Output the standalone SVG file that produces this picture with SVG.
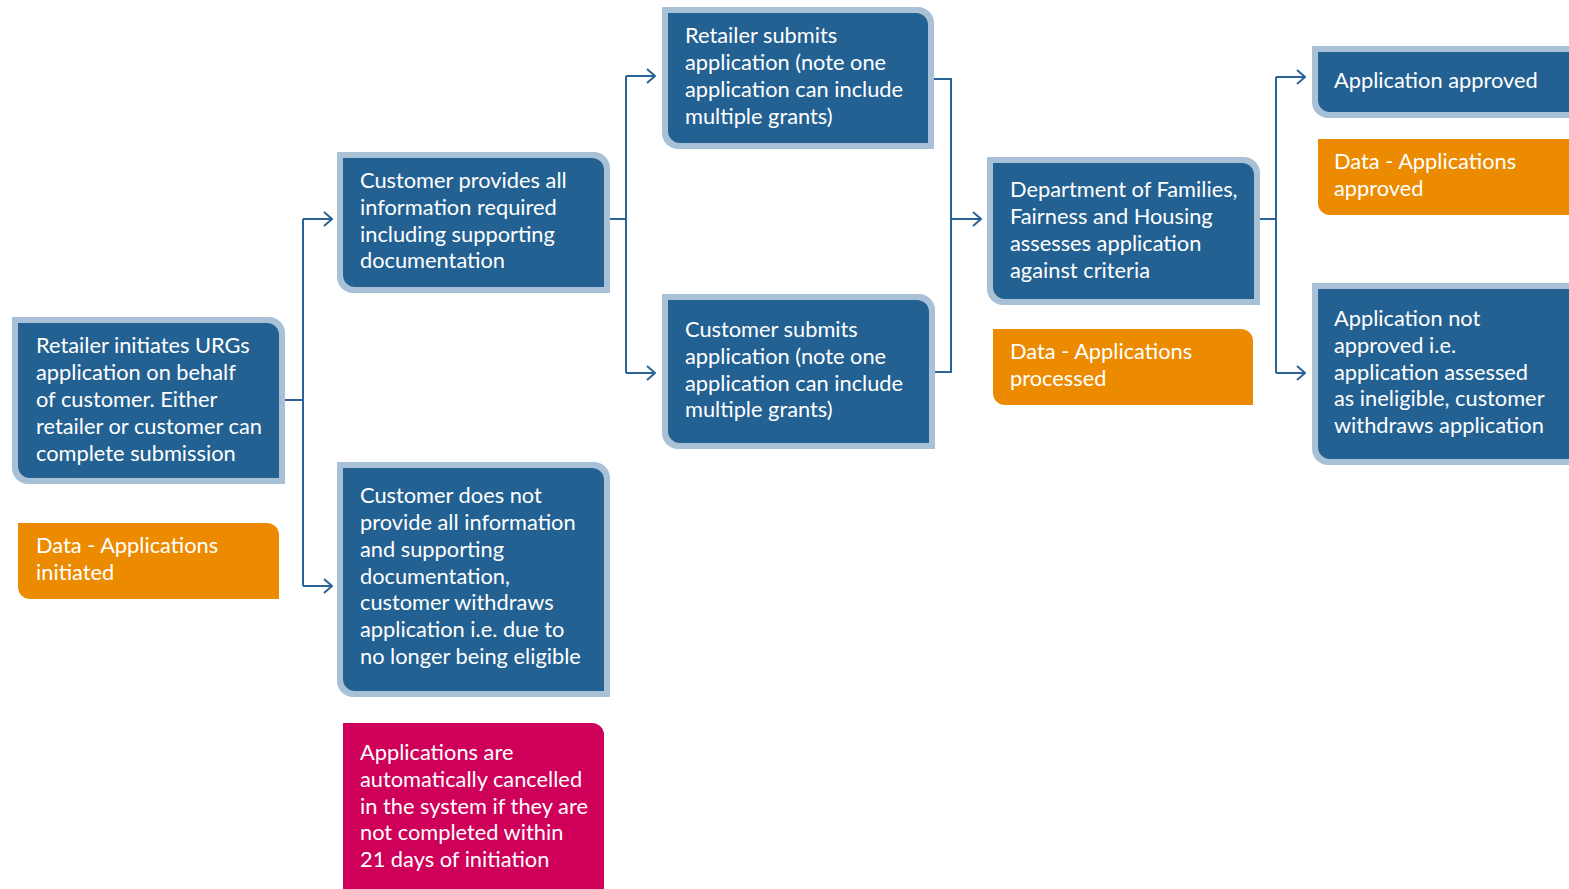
<svg xmlns="http://www.w3.org/2000/svg" width="1569" height="889" viewBox="0 0 1569 889">
<defs>
<style>
.outer{fill:#a8c1d6}
.inner{fill:#236192}
.orange{fill:#ec8b00}
.pink{fill:#cf0059}
.t{font-family:Lato,"Liberation Sans",sans-serif;font-size:21.8px;fill:#ffffff}
.c{fill:none;stroke:#2a6497;stroke-width:2}
</style>
<marker id="arr" viewBox="0 0 10 16" refX="9" refY="8" markerWidth="10" markerHeight="16" markerUnits="userSpaceOnUse" orient="auto">
<path d="M1,1 L9,8 L1,15" fill="none" stroke="#2a6497" stroke-width="2"/>
</marker>
</defs>
<rect width="1569" height="889" fill="#ffffff"/>
<g id="connectors">
<path class="c" d="M285,400 H303 M303,219 V586"/>
<path class="c" d="M303,219 H332" marker-end="url(#arr)"/>
<path class="c" d="M303,586 H332" marker-end="url(#arr)"/>
<path class="c" d="M610,219 H626 M626,76 V373"/>
<path class="c" d="M626,76 H655" marker-end="url(#arr)"/>
<path class="c" d="M626,373 H655" marker-end="url(#arr)"/>
<path class="c" d="M934,79 H951 V372 H935"/>
<path class="c" d="M951,219 H981" marker-end="url(#arr)"/>
<path class="c" d="M1260,219 H1276 M1276,77 V373"/>
<path class="c" d="M1276,77 H1305" marker-end="url(#arr)"/>
<path class="c" d="M1276,373 H1305" marker-end="url(#arr)"/>
</g>
<g id="retailer-initiates">
<path class="outer" d="M12,317 H269 A16,16 0 0 1 285,333 V484 H28 A16,16 0 0 1 12,468 Z"/>
<path class="inner" d="M18,323 H267 A12,12 0 0 1 279,335 V478 H30 A12,12 0 0 1 18,466 Z"/>
<text class="t"><tspan x="36" y="353">Retailer initiates URGs</tspan><tspan x="36" y="380">application on behalf</tspan><tspan x="36" y="407">of customer. Either</tspan><tspan x="36" y="434">retailer or customer can</tspan><tspan x="36" y="461">complete submission</tspan></text>
</g>
<g id="data-initiated">
<path class="orange" d="M18,523 H267 A12,12 0 0 1 279,535 V599 H30 A12,12 0 0 1 18,587 Z"/>
<text class="t"><tspan x="36" y="553">Data - Applications</tspan><tspan x="36" y="580">initiated</tspan></text>
</g>
<g id="customer-provides">
<path class="outer" d="M337,152 H594 A16,16 0 0 1 610,168 V293 H353 A16,16 0 0 1 337,277 Z"/>
<path class="inner" d="M343,158 H592 A12,12 0 0 1 604,170 V287 H355 A12,12 0 0 1 343,275 Z"/>
<text class="t"><tspan x="360" y="188">Customer provides all</tspan><tspan x="360" y="215">information required</tspan><tspan x="360" y="242">including supporting</tspan><tspan x="360" y="268">documentation</tspan></text>
</g>
<g id="customer-not-provide">
<path class="outer" d="M337,462 H594 A16,16 0 0 1 610,478 V697 H353 A16,16 0 0 1 337,681 Z"/>
<path class="inner" d="M343,468 H592 A12,12 0 0 1 604,480 V691 H355 A12,12 0 0 1 343,679 Z"/>
<text class="t"><tspan x="360" y="503">Customer does not</tspan><tspan x="360" y="530">provide all information</tspan><tspan x="360" y="557">and supporting</tspan><tspan x="360" y="584">documentation,</tspan><tspan x="360" y="610">customer withdraws</tspan><tspan x="360" y="637">application i.e. due to</tspan><tspan x="360" y="664">no longer being eligible</tspan></text>
</g>
<g id="auto-cancelled">
<path class="pink" d="M343,723 H592 A12,12 0 0 1 604,735 V900 H343 Z"/>
<text class="t"><tspan x="360" y="760">Applications are</tspan><tspan x="360" y="787">automatically cancelled</tspan><tspan x="360" y="814">in the system if they are</tspan><tspan x="360" y="840">not completed within</tspan><tspan x="360" y="867">21 days of initiation</tspan></text>
</g>
<g id="retailer-submits">
<path class="outer" d="M662,7 H918 A16,16 0 0 1 934,23 V149 H678 A16,16 0 0 1 662,133 Z"/>
<path class="inner" d="M668,13 H916 A12,12 0 0 1 928,25 V143 H680 A12,12 0 0 1 668,131 Z"/>
<text class="t"><tspan x="685" y="43">Retailer submits</tspan><tspan x="685" y="70">application (note one</tspan><tspan x="685" y="97">application can include</tspan><tspan x="685" y="124">multiple grants)</tspan></text>
</g>
<g id="customer-submits">
<path class="outer" d="M662,294 H919 A16,16 0 0 1 935,310 V449 H678 A16,16 0 0 1 662,433 Z"/>
<path class="inner" d="M668,300 H917 A12,12 0 0 1 929,312 V443 H680 A12,12 0 0 1 668,431 Z"/>
<text class="t"><tspan x="685" y="337">Customer submits</tspan><tspan x="685" y="364">application (note one</tspan><tspan x="685" y="391">application can include</tspan><tspan x="685" y="417">multiple grants)</tspan></text>
</g>
<g id="department-assesses">
<path class="outer" d="M987,157 H1244 A16,16 0 0 1 1260,173 V305 H1003 A16,16 0 0 1 987,289 Z"/>
<path class="inner" d="M993,163 H1242 A12,12 0 0 1 1254,175 V299 H1005 A12,12 0 0 1 993,287 Z"/>
<text class="t"><tspan x="1010" y="197">Department of Families,</tspan><tspan x="1010" y="224">Fairness and Housing</tspan><tspan x="1010" y="251">assesses application</tspan><tspan x="1010" y="278">against criteria</tspan></text>
</g>
<g id="data-processed">
<path class="orange" d="M993,329 H1241 A12,12 0 0 1 1253,341 V405 H1005 A12,12 0 0 1 993,393 Z"/>
<text class="t"><tspan x="1010" y="359">Data - Applications</tspan><tspan x="1010" y="386">processed</tspan></text>
</g>
<g id="application-approved">
<path class="outer" d="M1312,46 H1600 V118 H1328 A16,16 0 0 1 1312,102 Z"/>
<path class="inner" d="M1318,52 H1600 V112 H1330 A12,12 0 0 1 1318,100 Z"/>
<text class="t"><tspan x="1334" y="88">Application approved</tspan></text>
</g>
<g id="data-approved">
<path class="orange" d="M1318,139 H1600 V215 H1330 A12,12 0 0 1 1318,203 Z"/>
<text class="t"><tspan x="1334" y="169">Data - Applications</tspan><tspan x="1334" y="196">approved</tspan></text>
</g>
<g id="application-not-approved">
<path class="outer" d="M1312,283 H1600 V465 H1328 A16,16 0 0 1 1312,449 Z"/>
<path class="inner" d="M1318,289 H1600 V459 H1330 A12,12 0 0 1 1318,447 Z"/>
<text class="t"><tspan x="1334" y="326">Application not</tspan><tspan x="1334" y="353">approved i.e.</tspan><tspan x="1334" y="380">application assessed</tspan><tspan x="1334" y="406">as ineligible, customer</tspan><tspan x="1334" y="433">withdraws application</tspan></text>
</g>
</svg>
